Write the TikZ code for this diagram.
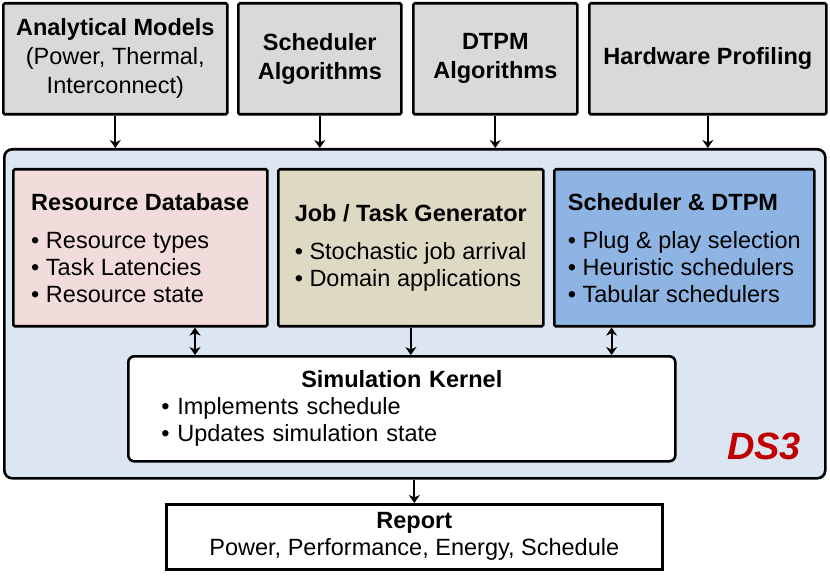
\documentclass[tikz,border=0pt]{standalone}
\usepackage{fontspec}
\setmainfont{Liberation Sans}
\usetikzlibrary{arrows.meta}
\definecolor{ingray}{HTML}{D9D9D9}
\definecolor{dsblue}{HTML}{DCE6F2}
\definecolor{dbpink}{HTML}{F2DCDB}
\definecolor{gentan}{HTML}{DDD9C3}
\definecolor{schblue}{HTML}{8DB4E2}
\definecolor{dsred}{HTML}{C00000}
\begin{document}
\begin{tikzpicture}[x=1pt, y=-1pt,
  every node/.style={font=\fontsize{23.5}{27}\selectfont},
  box/.style={draw, line width=2.6pt, anchor=north west, inner sep=0pt, rounded corners=1.5pt},
  inbox/.style={box, fill=ingray, minimum height=111pt, align=center, font=\fontsize{23.5}{29}\selectfont},
  arr/.style={-{Stealth[length=8pt,width=11pt,inset=2.5pt]}, line width=2pt},
  dbl/.style={{Stealth[length=8pt,width=11pt,inset=2.5pt]}-{Stealth[length=8pt,width=11pt,inset=2.5pt]}, line width=2pt}]
  \useasboundingbox (0,0) rectangle (830,577);
  % inputs
  \node[inbox, minimum width=224pt] (am) at (2,2) {\textbf{Analytical Models}\\(Power, Thermal,\\Interconnect)};
  \node[inbox, minimum width=163pt] (sa) at (237,2) {\textbf{Scheduler}\\\textbf{Algorithms}};
  \node[inbox, minimum width=164pt] (dt) at (412,2) {\textbf{DTPM}\\\textbf{Algorithms}};
  \node[inbox, minimum width=237pt] (hw) at (588,2) {\textbf{Hardware Profiling}};
  % DS3 framework
  \node[box, fill=dsblue, rounded corners=8pt, minimum width=821pt, minimum height=329pt] (ds3) at (3,148) {};
  \node[text=dsred, font=\fontsize{38}{40}\selectfont\bfseries\itshape] (ds3lbl) at (764,446) {DS3};
  \node[box, fill=dbpink, minimum width=254pt, minimum height=157pt, align=left] (rdb) at (12,168)
    {\textbf{Resource Database}\\[11pt] • Resource types\\ • Task Latencies\\ • Resource state};
  \node[box, fill=gentan, minimum width=265pt, minimum height=157pt, align=left] (jtg) at (277,168)
    {\textbf{Job / Task Generator}\\[11pt] • Stochastic job arrival\\ • Domain applications};
  \node[box, fill=schblue, minimum width=260pt, minimum height=157pt, align=left] (sd) at (553,168)
    {\textbf{Scheduler \& DTPM}\\[11pt] • Plug \& play selection\\ • Heuristic schedulers\\ • Tabular schedulers};
  \node[box, fill=white, rounded corners=6pt, minimum width=547pt, minimum height=105pt,
    inner xsep=33pt, text width=481pt, align=left] (sk) at (127,355)
    {\hfill\textbf{Simulation Kernel}\hfill\null\\ • Implements schedule\\ • Updates simulation state};
  % output
  \node[box, fill=white, rounded corners=0pt, minimum width=496pt, minimum height=65pt, align=center] (rp) at (165,503)
    {\textbf{Report}\\Power, Performance, Energy, Schedule};
  % connectors
  \foreach \n in {am,sa,dt,hw}
    \draw[arr] (\n.south) -- (\n.south |- ds3.north);
  \draw[dbl] ([xshift=68pt]sk.north west) -- ([xshift=68pt]sk.north west |- rdb.south);
  \draw[arr] (jtg.south) -- (jtg.south |- sk.north);
  \draw[dbl] ([xshift=-65pt]sk.north east) -- ([xshift=-65pt]sk.north east |- sd.south);
  \draw[arr] (rp.north |- ds3.south) -- (rp.north);
\end{tikzpicture}
\end{document}
